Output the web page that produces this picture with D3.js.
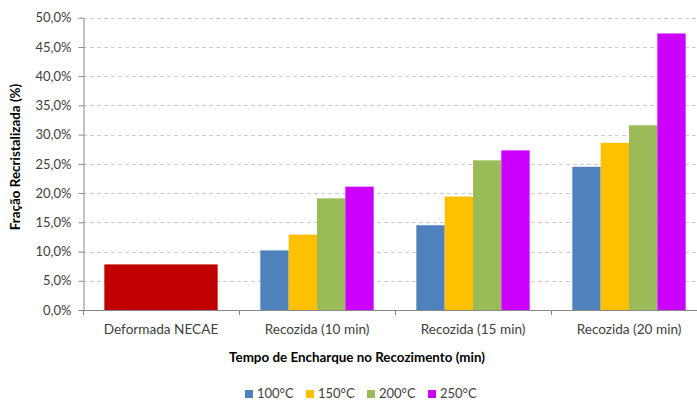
<!DOCTYPE html>
<html><head><meta charset="utf-8">
<script src="https://cdn.jsdelivr.net/npm/d3@7"></script>
<style>
html,body{margin:0;padding:0;background:#fff;}
svg{display:block;font-family:Lato, "Open Sans", sans-serif;}
</style></head>
<body>
<svg id="c" width="697" height="401"></svg>
<script>
const categories = ["Deformada NECAE", "Recozida (10 min)", "Recozida (15 min)", "Recozida (20 min)"];
const seriesNames = ["100°C", "150°C", "200°C", "250°C"];
const seriesColors = ["#4F81BD", "#FFC000", "#9BBB59", "#CC00FF"];
const deformedValue = 0.078;
const deformedColor = "#C00000";
const s100 = [null, 0.102, 0.145, 0.245];
const s150 = [null, 0.129, 0.194, 0.286];
const s200 = [null, 0.191, 0.256, 0.316];
const s250 = [null, 0.211, 0.273, 0.473];
const yTicks = [0, 0.05, 0.10, 0.15, 0.20, 0.25, 0.30, 0.35, 0.40, 0.45, 0.50];
const yTitle = "Fração Recristalizada (%)";
const xTitle = "Tempo de Encharque no Recozimento (min)";

(function(){
const series = [s100, s150, s200, s250];
const svg = d3.select("#c");
const pl = 83, pr = 707, pt = 17.7, pb = 310;
const x0 = d3.scaleBand().domain(categories).range([pl, pr]).padding(0);
const x1 = d3.scaleBand().domain(seriesNames).range([0, x0.bandwidth()]).paddingInner(0).paddingOuter(0.753);
const y = d3.scaleLinear().domain([0, 0.5]).range([pb, pt]);
const loc = d3.formatLocale({decimal: ",", thousands: ".", grouping: [3], currency: ["", ""]});
const fmt = loc.format(".1%");

// gridlines
svg.append("g").selectAll("line").data(yTicks.filter(d => d > 0)).join("line")
  .attr("x1", pl).attr("x2", 697)
  .attr("y1", d => Math.round(y(d)) + 0.5).attr("y2", d => Math.round(y(d)) + 0.5)
  .attr("stroke", "#CCCCCC").attr("stroke-width", 1).attr("stroke-dasharray", "4,3");

// deformed bar
const c0 = categories[0];
svg.append("rect")
  .attr("x", x0(c0) + x1(seriesNames[0]))
  .attr("width", x1(seriesNames[3]) + x1.bandwidth() - x1(seriesNames[0]))
  .attr("y", y(deformedValue)).attr("height", y(0) - y(deformedValue))
  .attr("fill", deformedColor);

// series bars
series.forEach((s, i) => {
  svg.append("g").selectAll("rect").data(categories.map((c, j) => ({c, v: s[j]})).filter(d => d.v != null)).join("rect")
    .attr("x", d => x0(d.c) + x1(seriesNames[i]))
    .attr("width", x1.bandwidth())
    .attr("y", d => y(d.v)).attr("height", d => y(0) - y(d.v))
    .attr("fill", seriesColors[i]);
});

// y axis
const ya = svg.append("g").attr("transform", `translate(${pl + 0.5},0)`)
  .call(d3.axisLeft(y).tickValues(yTicks).tickFormat(fmt).tickSize(5).tickSizeOuter(0));
ya.select(".domain").attr("stroke", "#888");
ya.selectAll(".tick line").attr("stroke", "#888");
ya.selectAll(".tick text").attr("font-size", 13).attr("fill", "#404040").attr("x", -12)
  .attr("font-family", "Lato, sans-serif");

// x axis
const xa = svg.append("g").attr("transform", `translate(0,${pb + 0.5})`)
  .call(d3.axisBottom(x0).tickSize(0).tickSizeOuter(0));
xa.select(".domain").attr("stroke", "#888").attr("d", `M${pl},0H697`);
xa.selectAll(".tick text").attr("font-size", 13.6).attr("fill", "#404040").attr("dy", 0).attr("y", 23.5)
  .attr("font-family", "Lato, sans-serif");
svg.append("g").selectAll("line").data(categories).join("line")
  .attr("x1", d => Math.round(x0(d)) + 0.5).attr("x2", d => Math.round(x0(d)) + 0.5)
  .attr("y1", pb).attr("y2", pb + 5).attr("stroke", "#888");

// titles
svg.append("text").attr("x", 357).attr("y", 362).attr("text-anchor", "middle")
  .attr("font-size", 13.4).attr("font-weight", "bold").attr("fill", "#000").text(xTitle);
svg.append("text").attr("transform", "translate(20,157) rotate(-90)").attr("text-anchor", "middle")
  .attr("font-size", 13.4).attr("font-weight", "bold").attr("fill", "#000").text(yTitle);

// legend
const lg = svg.append("g").selectAll("g").data(seriesNames).join("g")
  .attr("transform", (d, i) => `translate(${245 + i * 61},390)`);
lg.append("rect").attr("width", 8).attr("height", 8).attr("fill", (d, i) => seriesColors[i]);
lg.append("text").attr("x", 12).attr("y", 8).attr("font-size", 13).attr("fill", "#404040").text(d => d);
})();
</script>
</body></html>
